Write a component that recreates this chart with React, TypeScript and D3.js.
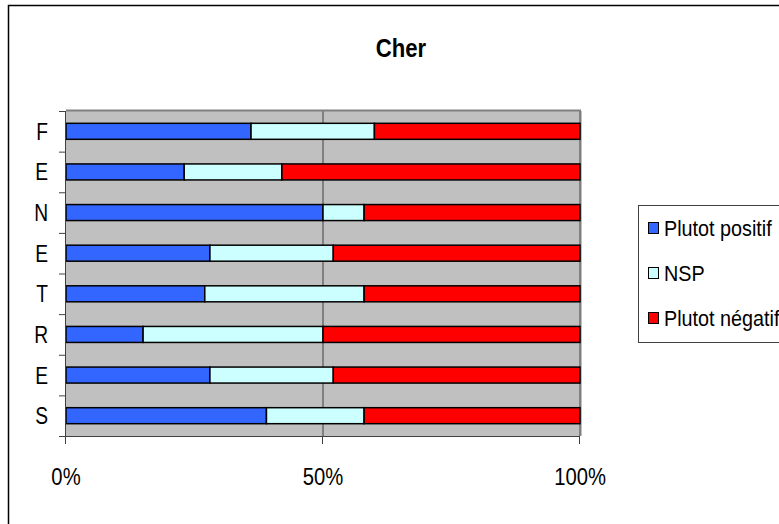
import React from "react";
import * as d3 from "d3";

const categories = ["F", "E", "N", "E", "T", "R", "E", "S"];
const positif = [36, 23, 50, 28, 27, 15, 28, 39];
const nsp = [24, 19, 8, 24, 31, 35, 24, 19];
const negatif = [40, 58, 42, 48, 42, 50, 48, 42];
const seriesNames = ["Plutot positif", "NSP", "Plutot négatif"];
const seriesColors = ["#3366FF", "#CCFFFF", "#FF0000"];
const xTicks = [0, 50, 100];
const title = "Cher";

const W = 779;
const H = 524;
const plot = { left: 66, right: 580, top: 111, bottom: 436 };
const FONT = "'Liberation Sans', Arial, sans-serif";

function NarrowText(props: { x: number; y: number; size: number; sx: number; anchor?: string; bold?: boolean; children: React.ReactNode }) {
  const { x, y, size, sx, anchor, bold, children } = props;
  return (
    <text
      transform={`translate(${x},${y}) scale(${sx},1)`}
      textAnchor={anchor || "start"}
      fontSize={size}
      fontWeight={bold ? "bold" : "normal"}
      fill="#000"
    >
      {children}
    </text>
  );
}

export default function App() {
  const x = d3.scaleLinear().domain([0, 100]).range([plot.left, plot.right]);
  const n = categories.length;
  const bandH = (plot.bottom - plot.top) / n;
  const bandEdges = d3.range(n + 1).map((i) => plot.top + i * bandH);
  const barH = 16;

  const rows = categories.map((c, i) => {
    const vals = [positif[i], nsp[i], negatif[i]];
    const total = d3.sum(vals);
    let acc = 0;
    return vals.map((v, k) => {
      const x0 = (acc / total) * 100;
      acc += v;
      const x1 = (acc / total) * 100;
      return { k, x0, x1, i };
    });
  });

  return (
    <svg width={W} height={H} style={{ position: "absolute", left: 0, top: 0, background: "#fff" }} fontFamily={FONT}>
      <rect x={0} y={0} width={W} height={H} fill="#fff" />
      <rect x={8.5} y={5.5} width={W + 20} height={H + 20} fill="none" stroke="#000" strokeWidth={1.5} />
      <NarrowText x={401} y={57} size={26} sx={0.85} anchor="middle" bold>
        {title}
      </NarrowText>

      <rect x={plot.left} y={plot.top} width={plot.right - plot.left} height={plot.bottom - plot.top} fill="#C0C0C0" />
      {xTicks.slice(1).map((t) => (
        <line key={"g" + t} x1={x(t)} x2={x(t)} y1={plot.top} y2={plot.bottom} stroke="#404040" strokeWidth={1} />
      ))}
      <line x1={plot.left} x2={plot.right + 1} y1={plot.top - 0.5} y2={plot.top - 0.5} stroke="#808080" strokeWidth={2} />
      <line x1={plot.right + 0.5} x2={plot.right + 0.5} y1={plot.top} y2={plot.bottom} stroke="#808080" strokeWidth={2} />

      {rows.map((segs, i) => {
        const cy = plot.top + bandH * (i + 0.5);
        return (
          <g key={"r" + i}>
            {segs.map((s) => (
              <rect
                key={s.k}
                x={x(s.x0)}
                y={cy - barH / 2}
                width={x(s.x1) - x(s.x0)}
                height={barH}
                fill={seriesColors[s.k]}
                stroke="#000"
                strokeWidth={1.5}
              />
            ))}
          </g>
        );
      })}

      <line x1={plot.left - 0.5} x2={plot.left - 0.5} y1={plot.top} y2={plot.bottom + 8} stroke="#404040" strokeWidth={1} />
      <line x1={plot.left - 7} x2={plot.right} y1={plot.bottom + 0.5} y2={plot.bottom + 0.5} stroke="#404040" strokeWidth={1} />
      {bandEdges.map((e, i) => (
        <line key={"yt" + i} x1={plot.left - 7} x2={plot.left} y1={e + 0.5} y2={e + 0.5} stroke="#404040" strokeWidth={1} />
      ))}
      {xTicks.map((t) => (
        <line key={"xt" + t} x1={x(t) - 0.5} x2={x(t) - 0.5} y1={plot.bottom} y2={plot.bottom + 8} stroke="#404040" strokeWidth={1} />
      ))}
      {categories.map((c, i) => (
        <NarrowText key={"yl" + i} x={48} y={plot.top + bandH * (i + 0.5) + 8.5} size={24} sx={0.8} anchor="end">
          {c}
        </NarrowText>
      ))}
      {xTicks.map((t) => (
        <NarrowText key={"xl" + t} x={x(t)} y={485} size={23} sx={0.88} anchor="middle">
          {t + "%"}
        </NarrowText>
      ))}

      <rect x={638.5} y={205.5} width={200} height={137} fill="#fff" stroke="#404040" strokeWidth={1} />
      {seriesNames.map((nm, k) => {
        const cy = 228 + k * 45;
        return (
          <g key={"lg" + k}>
            <rect x={648.5} y={cy - 5.5} width={10} height={11} fill={seriesColors[k]} stroke="#000" strokeWidth={1} />
            <NarrowText x={664} y={cy + 8} size={22} sx={0.9}>
              {nm}
            </NarrowText>
          </g>
        );
      })}
    </svg>
  );
}
